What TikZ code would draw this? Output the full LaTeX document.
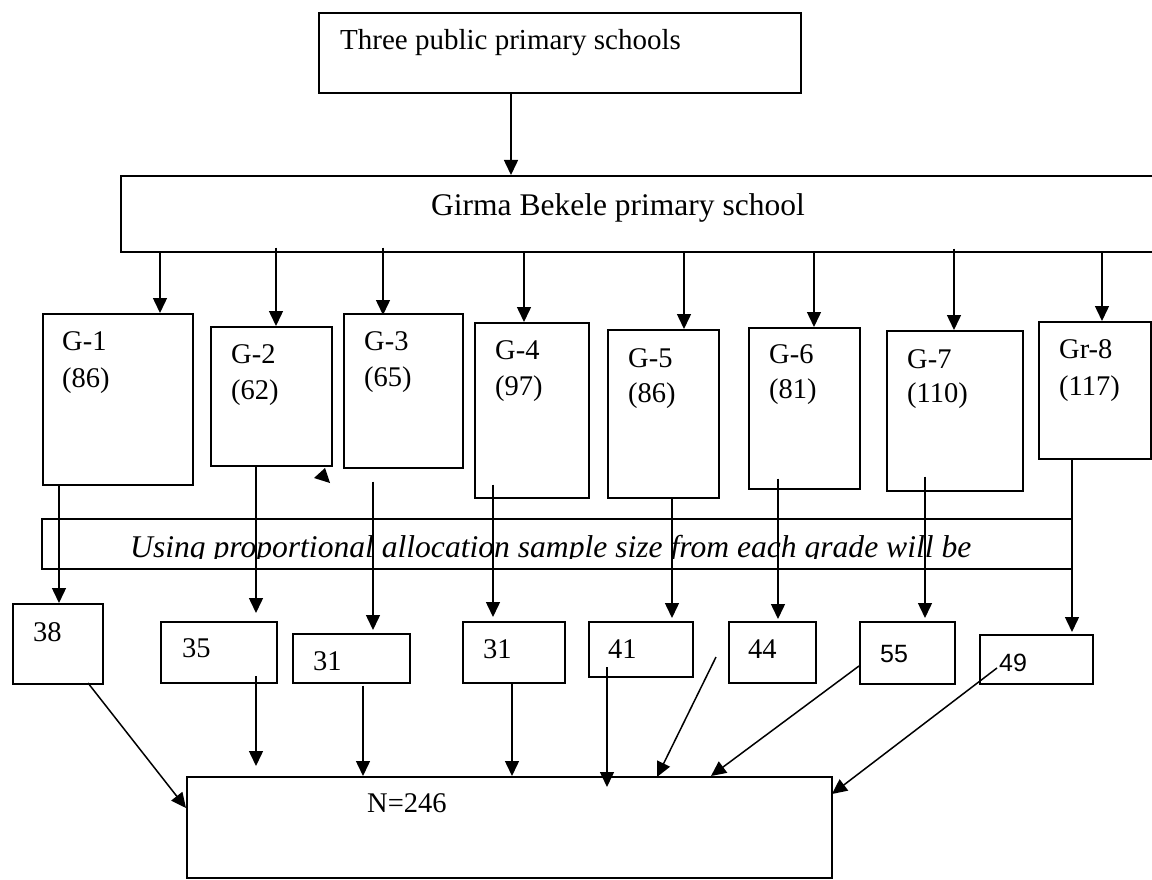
\documentclass[tikz,border=0pt]{standalone}
\usepackage{fontspec}
\setmainfont{Liberation Serif}
\newfontfamily\sansnum{Liberation Sans}
\usetikzlibrary{arrows.meta,calc}
\begin{document}
\begin{tikzpicture}[x=1pt,y=-1pt,
  box/.style={draw, line width=1.6pt, inner sep=0pt, anchor=north west},
  txt/.style={anchor=base west, inner sep=0pt, font=\fontsize{28.5}{34}\selectfont},
  conn/.style={line width=1.5pt, -{Triangle[length=15pt,width=14pt]}}]
\useasboundingbox[fill=white] (0,0) rectangle (1152,880);

% boxes
\node[box, minimum width=482pt, minimum height=80pt] (top) at (318,12) {};
\node[box, minimum width=1040pt, minimum height=76pt] (girma) at (120,175) {};
\node[box, minimum width=150pt, minimum height=171pt] (g1) at (42,313) {};
\node[box, minimum width=121pt, minimum height=139pt] (g2) at (210,326) {};
\node[box, minimum width=119pt, minimum height=154pt] (g3) at (343,313) {};
\node[box, minimum width=114pt, minimum height=175pt] (g4) at (474,322) {};
\node[box, minimum width=111pt, minimum height=168pt] (g5) at (607,329) {};
\node[box, minimum width=111pt, minimum height=161pt] (g6) at (748,327) {};
\node[box, minimum width=136pt, minimum height=160pt] (g7) at (886,330) {};
\node[box, minimum width=112pt, minimum height=137pt] (g8) at (1038,321) {};
\node[box, minimum width=1030pt, minimum height=50pt] (band) at (41,518) {};
\node[box, minimum width=90pt, minimum height=80pt] (n38) at (12,603) {};
\node[box, minimum width=116pt, minimum height=61pt] (n35) at (160,621) {};
\node[box, minimum width=117pt, minimum height=49pt] (n31a) at (292,633) {};
\node[box, minimum width=102pt, minimum height=61pt] (n31b) at (462,621) {};
\node[box, minimum width=104pt, minimum height=55pt] (n41) at (588,621) {};
\node[box, minimum width=87pt, minimum height=61pt] (n44) at (728,621) {};
\node[box, minimum width=95pt, minimum height=62pt] (n55) at (859,621) {};
\node[box, minimum width=113pt, minimum height=49pt] (n49) at (979,634) {};
\node[box, minimum width=645pt, minimum height=101pt] (N) at (186,776) {};

% texts
\node[txt, font=\fontsize{29}{34}\selectfont] (ttop) at (340,50) {Three public primary schools};
\node[anchor=base, inner sep=0pt, font=\fontsize{31.5}{36}\selectfont] (tgirma) at (618,215) {Girma Bekele primary school};
\node[txt] (t1a) at (62,350) {G-1};   \node[txt] (t1b) at (62,387) {(86)};
\node[txt] (t2a) at (231,363) {G-2};  \node[txt] (t2b) at (231,399) {(62)};
\node[txt] (t3a) at (364,350) {G-3};  \node[txt] (t3b) at (364,386) {(65)};
\node[txt] (t4a) at (495,359) {G-4};  \node[txt] (t4b) at (495,395) {(97)};
\node[txt] (t5a) at (628,367) {G-5};  \node[txt] (t5b) at (628,402) {(86)};
\node[txt] (t6a) at (769,363) {G-6};  \node[txt] (t6b) at (769,398) {(81)};
\node[txt] (t7a) at (907,368) {G-7};  \node[txt] (t7b) at (907,402) {(110)};
\node[txt] (t8a) at (1059,358) {Gr-8}; \node[txt] (t8b) at (1059,395) {(117)};
\begin{scope}
  \clip (41,518) rectangle (1071,558);
  \node[txt, font=\fontsize{31.6}{36}\selectfont\itshape] (tband) at (130,557) {Using proportional allocation sample size from each grade will be};
\end{scope}
\node[txt] (t38) at (33,641) {38};
\node[txt] (t35) at (182,657) {35};
\node[txt] (t31a) at (313,670) {31};
\node[txt] (t31b) at (483,658) {31};
\node[txt] (t41) at (608,658) {41};
\node[txt] (t44) at (748,658) {44};
\node[txt, font=\fontsize{25}{30}\sansnum] (t55) at (880,662) {55};
\node[txt, font=\fontsize{25}{30}\sansnum] (t49) at (999,671) {49};
\node[txt] (tN) at (367,812) {N=246};

% top connector
\coordinate (x0) at (511,0);
\draw[conn] (x0 |- top.south) -- (x0 |- girma.north);

% girma to grades
\coordinate (xg1) at (160,0);  \coordinate (xg2) at (276,0);
\coordinate (xg3) at (383,0);  \coordinate (xg4) at (524,0);
\coordinate (xg5) at (684,0);  \coordinate (xg6) at (814,0);
\coordinate (xg7) at (954,0);  \coordinate (xg8) at (1102,0);
\draw[conn] (xg1 |- girma.south) -- (xg1 |- g1.north);
\draw[conn] ([yshift=5pt]xg2 |- girma.south) -- (xg2 |- g2.north);
\draw[conn] ([yshift=5pt]xg3 |- girma.south) -- ([yshift=-2pt]xg3 |- g3.north);
\draw[conn] (xg4 |- girma.south) -- (xg4 |- g4.north);
\draw[conn] (xg5 |- girma.south) -- (xg5 |- g5.north);
\draw[conn] (xg6 |- girma.south) -- (xg6 |- g6.north);
\draw[conn] ([yshift=4pt]xg7 |- girma.south) -- (xg7 |- g7.north);
\draw[conn] (xg8 |- girma.south) -- (xg8 |- g8.north);

% stray arrowhead
\fill (325,468) -- (314,478) -- (330,483) -- cycle;

% grades to sample boxes
\coordinate (xl1) at (59,0);   \coordinate (xl2) at (256,0);
\coordinate (xl3) at (373,0);  \coordinate (xl4) at (493,0);
\coordinate (xl5) at (672,0);  \coordinate (xl6) at (778,0);
\coordinate (xl7) at (925,0);  \coordinate (xl8) at (1072,0);
\draw[conn] (xl1 |- g1.south) -- (xl1 |- n38.north);
\draw[conn] (xl2 |- g2.south) -- ([yshift=8pt]xl2 |- n35.north);
\draw[conn] ([yshift=-13pt]xl3 |- g3.south) -- ([yshift=3pt]xl3 |- n31a.north);
\draw[conn] ([yshift=14pt]xl4 |- g4.south) -- ([yshift=4pt]xl4 |- n31b.north);
\draw[conn] (xl5 |- g5.south) -- ([yshift=3pt]xl5 |- n41.north);
\draw[conn] ([yshift=11pt]xl6 |- g6.south) -- ([yshift=2pt]xl6 |- n44.north);
\draw[conn] ([yshift=15pt]xl7 |- g7.south) -- ([yshift=3pt]xl7 |- n55.north);
\draw[conn] (xl8 |- g8.south) -- ([yshift=2pt]xl8 |- n49.north);

% sample boxes to N
\coordinate (b1s) at (88,683);   \coordinate (b1e) at (186,808);
\coordinate (b2s) at (256,676);  \coordinate (b2e) at (256,766);
\coordinate (xb3) at (363,0);
\coordinate (xb4) at (512,0);
\coordinate (b5s) at (607,667);  \coordinate (b5e) at (607,787);
\coordinate (b6s) at (716,657);  \coordinate (b6e) at (657,777);
\coordinate (b7s) at (859,666);  \coordinate (b7e) at (711,776);
\coordinate (b8s) at (997,668);  \coordinate (b8e) at (832,794);
\draw[conn] (b1s) -- (b1e);
\draw[conn] (b2s) -- (b2e);
\draw[conn] ([yshift=-2pt]xb3 |- n31a.south) -- (xb3 |- N.north);
\draw[conn] (xb4 |- n31b.south) -- (xb4 |- N.north);
\draw[conn] (b5s) -- (b5e);
\draw[conn] (b6s) -- (b6e);
\draw[conn] (b7s) -- (b7e);
\draw[conn] (b8s) -- (b8e);
\end{tikzpicture}
\end{document}
